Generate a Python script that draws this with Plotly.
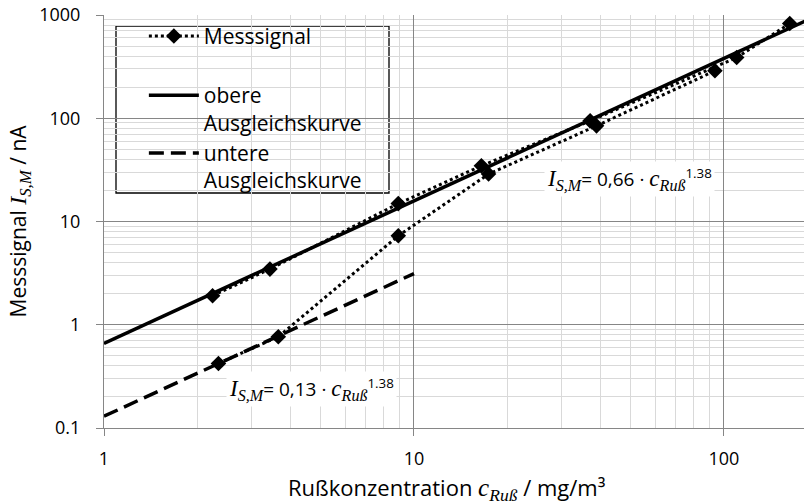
import plotly.graph_objects as go

# ---- data ----
mess_upper_x = [2.24, 3.43, 8.9, 16.5, 37.0, 109.9, 163.0]
mess_upper_y = [1.91, 3.46, 14.9, 34.6, 94.4, 387.0, 826.0]
mess_lower_x = [2.34, 3.65, 8.9, 17.4, 38.8, 93.5]
mess_lower_y = [0.422, 0.765, 7.27, 28.8, 84.4, 288.0]

upper_fit_x = [1.0, 192.0]
upper_fit_y = [0.66, 934.0]
lower_fit_x = [1.0, 10.0]
lower_fit_y = [0.13, 3.13]

x_range_log = [0.0, 2.284]
y_range_log = [-1.0, 3.0]

FONT = "Open Sans"
SERIF = "Liberation Serif"
MAJOR = "#868686"
MINOR = "#d9d9d9"
FS_TICK = 18
FS_TITLE = 22
FS_LEG = 21
FS_EQ = 19

# page has an 8px body margin: figure is placed at (8, 8)
PW, PH = 708, 413   # plot area in px
PX0, PY1 = 104, 428  # plot area left / bottom in page px

def px(xp):
    return (xp - PX0) / PW

def py(yp):
    return (PY1 - yp) / PH

fig = go.Figure()

mess_x = mess_upper_x + [None] + mess_lower_x
mess_y = mess_upper_y + [None] + mess_lower_y

fig.add_trace(go.Scatter(
    x=mess_x, y=mess_y, mode="lines+markers", name="Messsignal",
    line=dict(color="black", width=3, dash="dot"),
    marker=dict(symbol="diamond", size=12, color="black"),
    connectgaps=False, legendgroup="a"))
fig.add_trace(go.Scatter(
    x=upper_fit_x, y=upper_fit_y, mode="lines",
    name="obere<br>Ausgleichskurve",
    line=dict(color="black", width=3.5), legendgroup="b"))
fig.add_trace(go.Scatter(
    x=lower_fit_x, y=lower_fit_y, mode="lines",
    name="untere<br>Ausgleichskurve",
    line=dict(color="black", width=3.5, dash="15px,7px"), legendgroup="b"))

# legend frame
fig.add_shape(type="rect", xref="paper", yref="paper",
              x0=px(116), x1=px(389), y0=py(193), y1=py(26),
              line=dict(color="black", width=1.3), fillcolor="white",
              layer="between")

def eq(coef):
    return (f"<span style='font-family:{SERIF};font-size:23px'><i>I<sub>S,M</sub></i></span>"
            f"= {coef} · "
            f"<span style='font-family:{SERIF};font-size:23px'><i>c<sub>Ruß</sub></i></span>"
            f"<sup>1.38</sup>")

fig.add_annotation(xref="paper", yref="paper", x=px(629), y=py(179),
                   text=eq("0,66"), showarrow=False,
                   bgcolor="white", font=dict(family=FONT, size=FS_EQ, color="black"),
                   xanchor="center", yanchor="middle", borderpad=2)
fig.add_annotation(xref="paper", yref="paper", x=px(311), y=py(389),
                   text=eq("0,13"), showarrow=False,
                   bgcolor="white", font=dict(family=FONT, size=FS_EQ, color="black"),
                   xanchor="center", yanchor="middle", borderpad=2)

# axis titles
fig.add_annotation(xref="paper", yref="paper", x=px(447), y=py(488),
                   text=("Rußkonzentration "
                         f"<span style='font-family:{SERIF};font-size:25px'><i>c<sub>Ruß</sub></i></span>"
                         " / mg/m³"),
                   showarrow=False, xanchor="center", yanchor="middle",
                   font=dict(family=FONT, size=FS_TITLE, color="black"))
fig.add_annotation(xref="paper", yref="paper", x=px(19), y=0.5, textangle=-90,
                   text=("Messsignal "
                         f"<span style='font-family:{SERIF};font-size:24px'><i>I<sub>S,M</sub></i></span>"
                         " / nA"),
                   showarrow=False, xanchor="center", yanchor="middle",
                   font=dict(family=FONT, size=FS_TITLE - 1, color="black"))

axis_common = dict(
    type="log", dtick=1, showgrid=True, gridcolor=MAJOR, gridwidth=1,
    showline=True, linecolor=MAJOR, linewidth=1,
    ticks="outside", ticklen=7, tickcolor=MAJOR,
    minor=dict(dtick="D1", showgrid=True, gridcolor=MINOR, gridwidth=1, ticks=""),
    tickfont=dict(family=FONT, size=FS_TICK, color="black"),
    ticklabeloverflow="allow",
    zeroline=False,
)

fig.update_xaxes(range=x_range_log, ticklabelstandoff=7, **axis_common)
fig.update_yaxes(range=y_range_log, ticklabelstandoff=12, **axis_common)

fig.update_layout(
    width=804, height=495,
    margin=dict(l=96, r=0, t=7, b=75, autoexpand=False),
    paper_bgcolor="white", plot_bgcolor="white",
    font=dict(family=FONT, size=FS_TICK, color="black"),
    showlegend=True,
    legend=dict(x=0.0563, y=0.998, xanchor="left", yanchor="top",
                bgcolor="rgba(0,0,0,0)", borderwidth=0,
                traceorder="grouped", tracegroupgap=29, valign="top",
                itemwidth=50,
                font=dict(family=FONT, size=FS_LEG, color="black")),
)

fig.write_html("out.html")
